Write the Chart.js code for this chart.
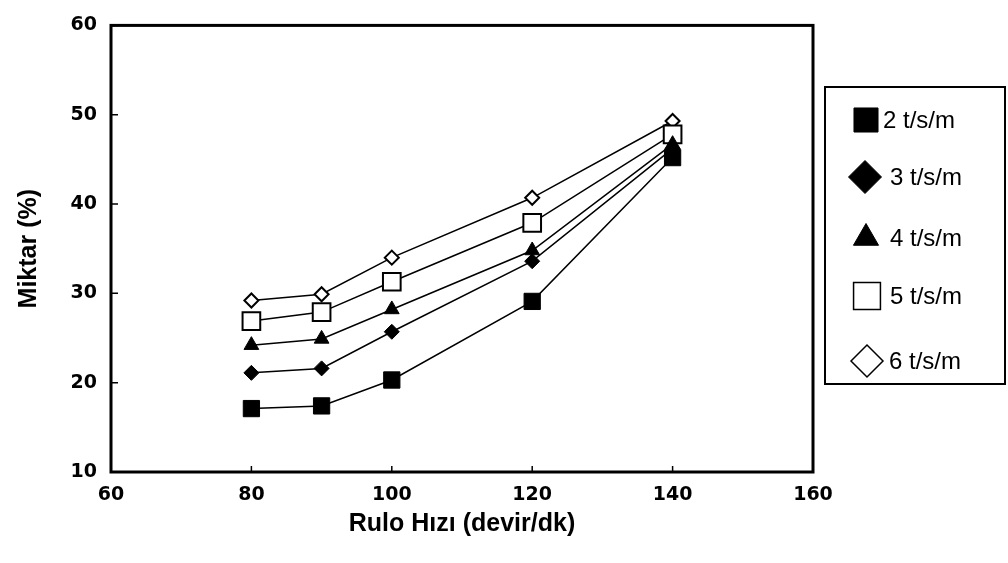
<!DOCTYPE html>
<html lang="tr">
<head>
<meta charset="UTF-8">
<title>Rulo Hızı - Miktar</title>
<script src="https://cdn.jsdelivr.net/npm/chart.js"></script>
<style>
  html, body { margin: 0; padding: 0; background: #fff; }
</style>
</head>
<body>
<canvas id="chart" width="1008" height="563"></canvas>
<script>
// rulo hızı (devir/dk)
const ruloHizi = [80, 90, 100, 120, 140];

// miktar (%) for each t/s/m setting
const seriesLabels = ["2 t/s/m", "3 t/s/m", "4 t/s/m", "5 t/s/m", "6 t/s/m"];
const miktar2 = [17.1, 17.4, 20.3, 29.1, 45.2];
const miktar3 = [21.1, 21.6, 25.7, 33.6, 46.2];
const miktar4 = [24.2, 24.9, 28.2, 34.8, 46.7];
const miktar5 = [26.9, 27.9, 31.3, 37.9, 47.8];
const miktar6 = [29.2, 29.9, 34.0, 40.7, 49.3];

const xTicks = [60, 80, 100, 120, 140, 160];
const yTicks = [10, 20, 30, 40, 50, 60];

// marker look per series: plot radius, legend radius, filled or hollow
const markers = [
  { style: "rect",     r: 11.5, lr: 17,   filled: true },
  { style: "rectRot",  r: 7.5,  lr: 16.5, filled: true },
  { style: "triangle", r: 8.5,  lr: 14.5, filled: true },
  { style: "rect",     r: 12.5, lr: 19,   filled: false },
  { style: "rectRot",  r: 7,    lr: 16,   filled: false }
];

const allSeries = [miktar2, miktar3, miktar4, miktar5, miktar6];

const datasets = allSeries.map((vals, i) => ({
  label: seriesLabels[i],
  data: ruloHizi.map((x, j) => ({ x: x, y: vals[j] })),
  borderColor: "#000",
  borderWidth: 1.5,
  pointStyle: markers[i].style,
  pointRadius: markers[i].r,
  pointBorderWidth: markers[i].filled ? 1 : 2,
  pointBorderColor: "#000",
  pointBackgroundColor: markers[i].filled ? "#000" : "#fff",
  tension: 0
}));

// box around the plot plus short inward tick marks
const framePlugin = {
  id: "frame",
  beforeDatasetsDraw(chart) {
    const { ctx, chartArea: a, scales } = chart;
    ctx.save();
    ctx.strokeStyle = "#000";
    ctx.lineWidth = 3;
    ctx.strokeRect(a.left, a.top, a.right - a.left, a.bottom - a.top);
    ctx.lineWidth = 1.5;
    ctx.beginPath();
    yTicks.forEach(v => {
      const y = scales.y.getPixelForValue(v);
      ctx.moveTo(a.left, y);
      ctx.lineTo(a.left + 7, y);
    });
    xTicks.forEach(v => {
      const x = scales.x.getPixelForValue(v);
      ctx.moveTo(x, a.bottom);
      ctx.lineTo(x, a.bottom - 6);
    });
    ctx.stroke();
    ctx.restore();
  }
};

// boxed legend on the right side
const legendPlugin = {
  id: "boxLegend",
  afterDraw(chart) {
    const { ctx } = chart;
    const box = { left: 825, top: 87, right: 1005, bottom: 384 };
    const rows = [
      { x: 866, y: 120, tx: 883 },
      { x: 865, y: 177, tx: 890 },
      { x: 866, y: 238, tx: 890 },
      { x: 867, y: 296, tx: 890 },
      { x: 867, y: 361, tx: 889 }
    ];
    ctx.save();
    ctx.strokeStyle = "#000";
    ctx.lineWidth = 2;
    ctx.strokeRect(box.left, box.top, box.right - box.left, box.bottom - box.top);
    ctx.font = "24px 'Liberation Sans', Arial, sans-serif";
    ctx.textBaseline = "middle";
    ctx.textAlign = "left";
    chart.data.datasets.forEach((ds, i) => {
      const m = markers[i];
      const row = rows[i];
      ctx.fillStyle = m.filled ? "#000" : "#fff";
      ctx.strokeStyle = "#000";
      ctx.lineWidth = m.filled ? 1 : 1.5;
      Chart.helpers.drawPoint(ctx, { pointStyle: m.style, radius: m.lr, rotation: 0, borderWidth: ctx.lineWidth },
        row.x, row.y);
      ctx.fillStyle = "#000";
      ctx.fillText(ds.label, row.tx, row.y + 1);
    });
    ctx.restore();
  }
};

const tickFont = { family: "'DejaVu Sans', sans-serif", weight: "bold", size: 19 };
const titleFont = { family: "'Liberation Sans', Arial, sans-serif", weight: "bold", size: 25 };

new Chart(document.getElementById("chart"), {
  type: "line",
  data: { datasets: datasets },
  options: {
    responsive: false,
    animation: false,
    devicePixelRatio: 1,
    layout: { padding: { top: 21, right: 195, left: 0, bottom: 0 } },
    plugins: {
      legend: { display: false },
      tooltip: { enabled: false }
    },
    scales: {
      x: {
        type: "linear",
        min: 60,
        max: 160,
        afterBuildTicks: s => { s.ticks = xTicks.map(v => ({ value: v })); },
        afterFit: s => { s.height = 91; },
        grid: { display: false, drawTicks: false },
        border: { display: false },
        ticks: { color: "#000", font: tickFont, padding: 12, maxRotation: 0 },
        title: {
          display: true,
          text: "Rulo Hızı (devir/dk)",
          color: "#000",
          font: titleFont,
          padding: { top: 0, bottom: 24 }
        }
      },
      y: {
        type: "linear",
        min: 10,
        max: 60,
        afterBuildTicks: s => { s.ticks = yTicks.map(v => ({ value: v })); },
        afterFit: s => { s.width = 111; },
        grid: { display: false, drawTicks: false },
        border: { display: false },
        ticks: { color: "#000", font: tickFont, padding: 14 },
        title: {
          display: true,
          text: "Miktar (%)",
          color: "#000",
          font: titleFont,
          padding: { top: 14, bottom: 0 }
        }
      }
    }
  },
  plugins: [framePlugin, legendPlugin]
});
</script>
</body>
</html>
